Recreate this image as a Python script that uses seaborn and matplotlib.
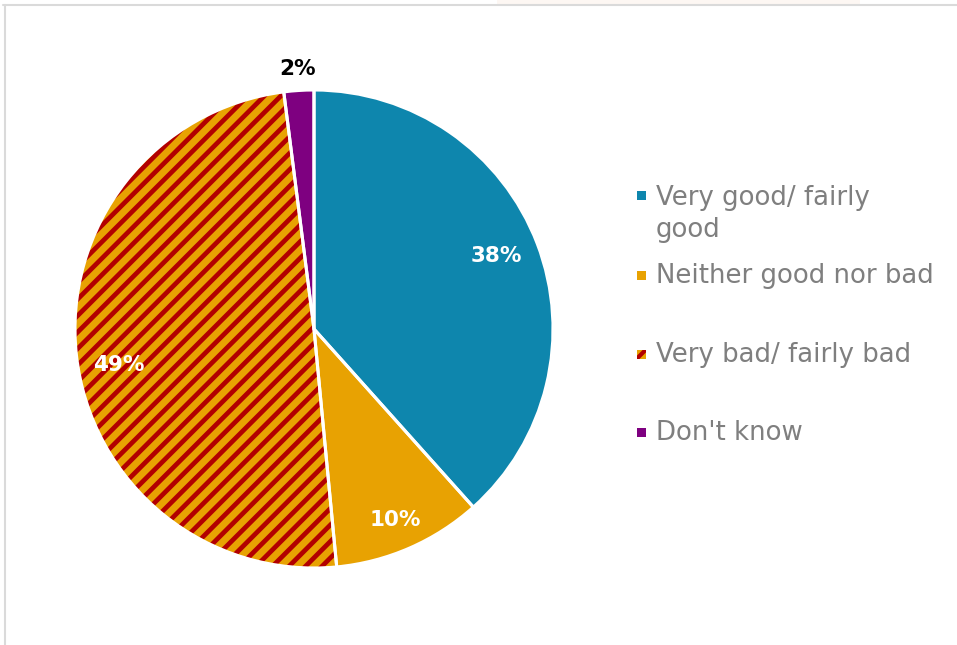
import numpy as np
import matplotlib
matplotlib.use("Agg")
import matplotlib.pyplot as plt
from matplotlib.patches import Rectangle
from matplotlib.lines import Line2D
from matplotlib.collections import LineCollection
import seaborn as sns

# Survey answers and their shares (%)
categories = ["Very good/ fairly good", "Neither good nor bad",
              "Very bad/ fairly bad", "Don't know"]
legend_labels = ["Very good/ fairly\ngood", "Neither good nor bad",
                 "Very bad/ fairly bad", "Don't know"]
shares = [38, 10, 49, 2]
value_labels = ["38%", "10%", "49%", "2%"]

slice_colors = ["#0E86AD", "#E8A202", "#E8A202", "#7E0080"]
striped = [False, False, True, False]
stripe_color = "#B20000"

sns.set_theme(style="white")
plt.rcParams["font.family"] = ["DejaVu Sans"]

W, H = 957, 645
fig = plt.figure(figsize=(W / 100, H / 100), dpi=100)
fig.patch.set_facecolor("white")

# slide frame
fig.add_artist(Rectangle((497 / W, 1 - 5 / H), 363 / W, 5 / H,
                         transform=fig.transFigure, facecolor="#FDF7F3",
                         edgecolor="none"))
fig.add_artist(Line2D([3 / W, 1], [1 - 5 / H, 1 - 5 / H],
                      transform=fig.transFigure, color="#DADADA", lw=1.5))
fig.add_artist(Line2D([5 / W, 5 / W], [0, 1 - 5 / H],
                      transform=fig.transFigure, color="#DADADA", lw=1.5))

# pie axes (center and radius in pixels)
cx, cy, r = 314, 329, 239
ax = fig.add_axes([(cx - r) / W, (H - cy - r) / H, 2 * r / W, 2 * r / H])

wedges, _ = ax.pie(shares, colors=slice_colors, startangle=90,
                   counterclock=False, radius=1,
                   wedgeprops=dict(linewidth=0))

# diagonal stripe pattern, clipped to the striped slices
step = 16.5 / r          # horizontal spacing of stripes (axis units)
offsets = np.arange(-2.2, 2.2, step)
segs = [[(-1.2, -1.2 + c), (1.2, 1.2 + c)] for c in offsets]
for w, s in zip(wedges, striped):
    if s:
        lc = LineCollection(segs, colors=stripe_color, linewidths=3.4,
                            capstyle="butt", zorder=w.get_zorder() + 0.1)
        ax.add_collection(lc)
        lc.set_clip_path(w)

# white separators between slices
ax.pie(shares, colors=["none"] * len(shares), startangle=90,
       counterclock=False, radius=1,
       wedgeprops=dict(edgecolor="white", linewidth=2.2, facecolor="none",
                       zorder=5))

ax.set_xlim(-1, 1)
ax.set_ylim(-1, 1)
ax.set_aspect("equal")
ax.axis("off")

# value labels: radial distance and angular nudge (degrees)
label_dist = [0.82, 0.87, 0.83, 1.09]
label_turn = [1.0, -0.6, 4.0, 0.0]
label_colors = ["white", "white", "white", "black"]
for w, txt, d, t, c in zip(wedges, value_labels, label_dist, label_turn,
                           label_colors):
    ang = np.deg2rad((w.theta1 + w.theta2) / 2 + t)
    ax.text(d * np.cos(ang), d * np.sin(ang), txt, ha="center", va="center",
            color=c, fontsize=15.5, fontweight="bold", zorder=10)

# legend
sq_y = [195, 275, 354, 432]
txt_y = [237, 283, 362, 440]   # baseline of the last line of each entry
sq = 9
for i, lab in enumerate(legend_labels):
    x0, y0 = 637 / W, 1 - (sq_y[i] + sq / 2) / H
    box = Rectangle((x0, y0), sq / W, sq / H, transform=fig.transFigure,
                    facecolor=slice_colors[i], edgecolor="none", linewidth=0)
    fig.add_artist(box)
    if striped[i]:
        ln = Line2D([x0 - 2 / W, x0 + (sq + 2) / W], [y0 - 2 / H, y0 + (sq + 2) / H],
                    transform=fig.transFigure, color=stripe_color, lw=3.0,
                    solid_capstyle="butt")
        fig.add_artist(ln)
        ln.set_clip_path(box)
    fig.text(656 / W, 1 - txt_y[i] / H, lab, ha="left", va="baseline",
             fontsize=18.7, color="#7F7F7F", linespacing=1.28)

fig.savefig("out.png", dpi=100, facecolor="white")
